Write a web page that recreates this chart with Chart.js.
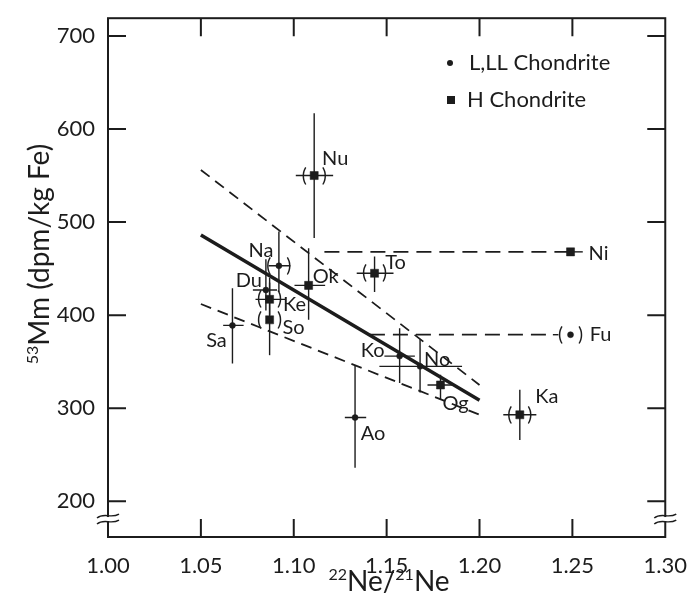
<!DOCTYPE html>
<html>
<head>
<meta charset="utf-8">
<script src="https://cdn.jsdelivr.net/npm/chart.js@4.4.1/dist/chart.umd.min.js"></script>
<style>
  html, body { margin: 0; padding: 0; background: #fff; }
  canvas { display: block; }
</style>
</head>
<body>
<canvas id="chart" width="695" height="609"></canvas>
<script>
// Meteorite samples: 22Ne/21Ne vs 53Mn activity
const NAMES     = ['Sa', 'So', 'Ke', 'Du', 'Na', 'Ok', 'Nu', 'To', 'Ni', 'Fu', 'Ka', 'Ko', 'No', 'Og', 'Ao']
const TYPES     = ['L', 'H', 'H', 'L', 'L', 'H', 'H', 'H', 'H', 'L', 'H', 'L', 'L', 'H', 'L']
const NE_RATIO  = [1.067, 1.087, 1.087, 1.085, 1.092, 1.108, 1.111, 1.1435, 1.249, 1.249, 1.2217, 1.157, 1.168, 1.179, 1.133]
const MN53      = [389, 395, 417, 427, 453, 432, 550, 445, 468, 379, 293, 356, 345, 325, 290]
const MN53_LOW  = [348, 357, 400, 405, 425, 395, 483, 425, null, null, 266, 327, 317, 309, 236]
const MN53_HIGH = [429, 435, 440, 460, 490, 472, 617, 463, null, null, 320, 386, 374, 336, 346]
const NE_LOW    = [1.062, null, 1.0794, 1.078, 1.0865, 1.1004, 1.1011, 1.1339, 1.249, 1.2395, 1.2128, 1.1488, 1.1461, 1.172, 1.1275]
const NE_HIGH   = [1.073, null, 1.0954, 1.091, 1.0982, 1.1169, 1.1212, 1.1537, 1.2556, 1.2425, 1.2306, 1.1652, 1.1906, 1.186, 1.139]
const UNCERTAIN = [false, true, true, false, true, false, true, true, false, true, true, false, false, false, false]

// correlation line and its envelope
const FIT_X   = [1.05, 1.20]
const FIT_Y   = [486, 308.5]
const UPPER_Y = [556, 325]
const LOWER_Y = [412, 293]
// horizontal dashed links to Ni and Fu
const NI_LINK_X = [1.1165, 1.249]
const NI_LINK_Y = [468, 468]
const FU_LINK_X = [1.141, 1.2395]
const FU_LINK_Y = [379, 379]

const X_TICKS = [1.00, 1.05, 1.10, 1.15, 1.20, 1.25, 1.30]
const Y_TICKS = [200, 300, 400, 500, 600, 700]
const Y_BREAK = 181

const INK  = '#1c1c1c'
const FONT = 'Lato, "Noto Sans", sans-serif'

// label placement (pixels from the marker)
const LABEL_OFFSET = {
  Sa: [-16, 15], So: [24, 8], Ke: [25, 5], Du: [-17, -9], Na: [-18, -15],
  Ok: [17, -9], Nu: [21, -17], To: [21, -11], Ni: [28, 2], Fu: [30, 0],
  Ka: [27, -18], Ko: [-27, -6], No: [17, -7], Og: [15, 19], Ao: [18, 16],
}

const pts = t => NAMES.map((n, i) => ({ x: NE_RATIO[i], y: MN53[i], t: TYPES[i] })).filter(p => p.t === t)
const xy = (xs, ys) => xs.map((x, i) => ({ x, y: ys[i] }))

const decor = {
  id: 'decor',
  beforeDatasetsDraw(chart) {
    const { ctx, scales: { x, y } } = chart
    ctx.save()
    ctx.strokeStyle = INK
    ctx.lineWidth = 1.4
    NAMES.forEach((n, i) => {
      const px = x.getPixelForValue(NE_RATIO[i])
      const py = y.getPixelForValue(MN53[i])
      ctx.beginPath()
      if (MN53_LOW[i] != null) {
        ctx.moveTo(px, y.getPixelForValue(MN53_LOW[i]))
        ctx.lineTo(px, y.getPixelForValue(MN53_HIGH[i]))
      }
      if (NE_LOW[i] != null) {
        ctx.moveTo(x.getPixelForValue(NE_LOW[i]), py)
        ctx.lineTo(x.getPixelForValue(NE_HIGH[i]), py)
      }
      ctx.stroke()
    })
    ctx.restore()
  },
  afterDatasetsDraw(chart) {
    const { ctx, chartArea: a, scales: { x, y } } = chart
    ctx.save()
    ctx.fillStyle = INK
    ctx.strokeStyle = INK

    // brackets round uncertain values, then sample names
    ctx.textAlign = 'center'
    ctx.textBaseline = 'middle'
    NAMES.forEach((n, i) => {
      const px = x.getPixelForValue(NE_RATIO[i])
      const py = y.getPixelForValue(MN53[i])
      if (UNCERTAIN[i]) {
        ctx.font = `19px ${FONT}`
        ctx.fillText('(', px - 10, py)
        ctx.fillText(')', px + 10, py)
      }
      const [dx, dy] = LABEL_OFFSET[n]
      ctx.font = `20px ${FONT}`
      ctx.fillText(n, px + dx, py + dy)
    })

    // frame
    ctx.lineWidth = 2
    ctx.strokeRect(a.left, a.top, a.right - a.left, a.bottom - a.top)

    // inward ticks
    const TL = 18
    ctx.beginPath()
    X_TICKS.slice(1, -1).forEach(v => {
      const px = x.getPixelForValue(v)
      ctx.moveTo(px, a.bottom); ctx.lineTo(px, a.bottom - TL)
      ctx.moveTo(px, a.top); ctx.lineTo(px, a.top + TL)
    })
    Y_TICKS.forEach(v => {
      const py = y.getPixelForValue(v)
      ctx.moveTo(a.left, py); ctx.lineTo(a.left + TL, py)
      ctx.moveTo(a.right, py); ctx.lineTo(a.right - TL, py)
    })
    ctx.stroke()

    // axis breaks
    const yb = y.getPixelForValue(Y_BREAK)
    ;[a.left, a.right].forEach(ax => {
      ctx.fillStyle = '#fff'
      ctx.fillRect(ax - 2, yb - 2, 4, 4)
      ctx.lineWidth = 1.5
      ;[-3, 3].forEach(o => {
        ctx.beginPath()
        ctx.moveTo(ax - 11, yb + o + 2)
        ctx.bezierCurveTo(ax - 4, yb + o - 4, ax + 3, yb + o + 3, ax + 11, yb + o - 2)
        ctx.stroke()
      })
    })

    // legend
    ctx.fillStyle = INK
    ctx.textAlign = 'left'
    ctx.font = `22px ${FONT}`
    ctx.beginPath(); ctx.arc(450, 63, 3, 0, Math.PI * 2); ctx.fill()
    ctx.fillText('L,LL Chondrite', 469, 63)
    ctx.fillRect(447, 96, 8, 8)
    ctx.fillText('H Chondrite', 467, 100)

    // axis titles with superscripts
    const titled = (parts, cx, cy, rot) => {
      ctx.save()
      ctx.translate(cx, cy)
      ctx.rotate(rot)
      let w = 0
      parts.forEach(p => { ctx.font = `${p.s}px ${FONT}`; p.w = ctx.measureText(p.t).width; w += p.w })
      let cur = -w / 2
      ctx.textAlign = 'left'
      ctx.textBaseline = 'alphabetic'
      parts.forEach(p => {
        ctx.font = `${p.s}px ${FONT}`
        ctx.fillText(p.t, cur, 10 + (p.up || 0))
        cur += p.w
      })
      ctx.restore()
    }
    titled([{ t: '53', s: 16, up: -11 }, { t: 'Mm (dpm/kg Fe)', s: 28 }], 39, 254, -Math.PI / 2)
    titled([{ t: '22', s: 16, up: -11 }, { t: 'Ne', s: 28 }, { t: '/', s: 28 }, { t: '21', s: 16, up: -11 }, { t: 'Ne', s: 28 }], 389, 581, 0)
    ctx.restore()
  },
}

new Chart(document.getElementById('chart'), {
  type: 'scatter',
  data: {
    datasets: [
      { label: 'fit', data: xy(FIT_X, FIT_Y), showLine: true, borderColor: INK, borderWidth: 3.5, pointRadius: 0 },
      { label: 'upper', data: xy(FIT_X, UPPER_Y), showLine: true, borderColor: INK, borderWidth: 1.8, borderDash: [11, 7], pointRadius: 0 },
      { label: 'lower', data: xy(FIT_X, LOWER_Y), showLine: true, borderColor: INK, borderWidth: 1.8, borderDash: [11, 7], pointRadius: 0 },
      { label: 'Ni link', data: xy(NI_LINK_X, NI_LINK_Y), showLine: true, borderColor: INK, borderWidth: 1.8, borderDash: [15, 8], pointRadius: 0 },
      { label: 'Fu link', data: xy(FU_LINK_X, FU_LINK_Y), showLine: true, borderColor: INK, borderWidth: 1.8, borderDash: [15, 8], pointRadius: 0 },
      { label: 'L,LL Chondrite', data: pts('L'), pointStyle: 'circle', pointRadius: 3, backgroundColor: INK, borderColor: INK, borderWidth: 0.5 },
      { label: 'H Chondrite', data: pts('H'), pointStyle: 'rect', pointRadius: 5.7, backgroundColor: INK, borderColor: INK, borderWidth: 0.5 },
    ],
  },
  options: {
    responsive: false,
    animation: false,
    devicePixelRatio: 1,
    layout: { padding: { top: 13, right: 25, left: 0, bottom: 0 } },
    plugins: { legend: { display: false }, tooltip: { enabled: false } },
    scales: {
      x: {
        type: 'linear', min: 1.0, max: 1.3,
        afterFit: s => { s.height = 72 },
        afterBuildTicks: s => { s.ticks = X_TICKS.map(v => ({ value: v })) },
        grid: { display: false },
        border: { display: false },
        ticks: { color: INK, font: { family: FONT, size: 22 }, padding: 8, autoSkip: false, maxRotation: 0, callback: v => v.toFixed(2) },
      },
      y: {
        type: 'linear', min: 161.7, max: 719,
        afterFit: s => { s.width = 108 },
        afterBuildTicks: s => { s.ticks = Y_TICKS.map(v => ({ value: v })) },
        grid: { display: false },
        border: { display: false },
        ticks: { color: INK, font: { family: FONT, size: 22 }, padding: 5, autoSkip: false },
      },
    },
  },
  plugins: [decor],
})
</script>
</body>
</html>
